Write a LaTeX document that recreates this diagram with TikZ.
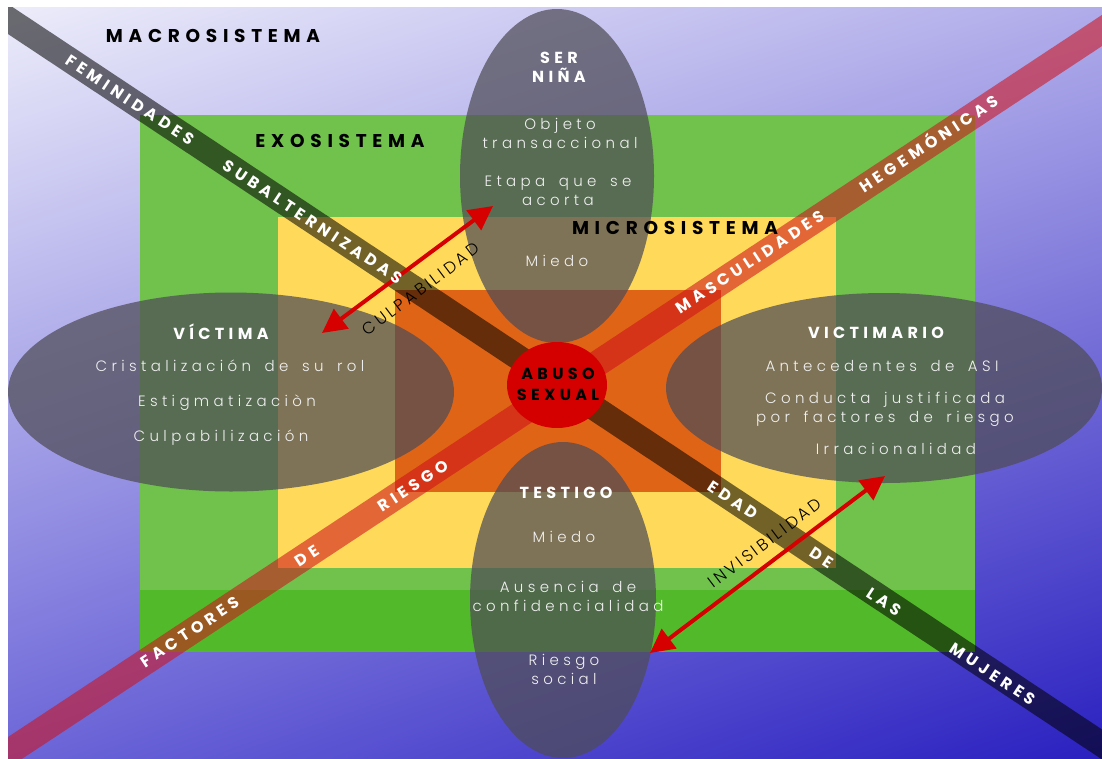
\documentclass[tikz,border=0pt]{standalone}
\usepackage{fontspec}
\setmainfont{Poppins}
\newfontfamily\boldf{Poppins}[LetterSpace=27]
\newfontfamily\headf{Poppins}[LetterSpace=31]
\newfontfamily\lightf{Poppins Light}[LetterSpace=29,WordSpace=1.6]
\newfontfamily\lightsp{Poppins Light}[LetterSpace=18]
\usetikzlibrary{shadings,shapes.geometric,arrows.meta}
\definecolor{bgTL}{RGB}{236,236,250}
\definecolor{bgTR}{RGB}{176,172,234}
\definecolor{bgBL}{RGB}{108,102,216}
\definecolor{bgBR}{RGB}{42,32,192}
\definecolor{exoG}{RGB}{112,194,76}
\definecolor{exoGd}{RGB}{82,186,42}
\definecolor{microY}{RGB}{255,218,90}
\definecolor{coreO}{RGB}{224,100,22}
\definecolor{bandR}{RGB}{207,17,27}
\definecolor{ellG}{RGB}{78,76,86}
\definecolor{absR}{RGB}{212,0,0}
\definecolor{arrR}{RGB}{215,0,0}
\definecolor{txtW}{RGB}{240,240,240}
\begin{document}
\begin{tikzpicture}[x=1pt,y=-1pt,
  headtxt/.style={text=black,font=\headf\bfseries\fontsize{18.5}{22}\selectfont,inner sep=0pt},
  ttl/.style={text=white,font=\boldf\bfseries\fontsize{16}{19}\selectfont,inner sep=0pt,align=center},
  itm/.style={text=txtW,font=\lightf\fontsize{15}{19}\selectfont,inner sep=0pt,align=center},
  bandtxt/.style={text=white,font=\boldf\bfseries\fontsize{16}{19}\selectfont,inner sep=0pt},
  arrtxt/.style={text=black,font=\lightsp\fontsize{16.5}{19}\selectfont,inner sep=0pt},
  blob/.style={ellipse,fill=ellG,fill opacity=0.72,inner sep=0pt,draw=none},
  arr/.style={draw=arrR,line width=4pt,{Triangle[length=24pt,width=24pt]}-{Triangle[length=24pt,width=24pt]}}
]
\useasboundingbox (0,0) rectangle (1102,758);
\fill[white] (0,0) rectangle (1102,758);
\begin{scope}
\clip (8,7) rectangle (1102,758);
\shade[shading=bilinear interpolation,upper left=bgTL,upper right=bgTR,lower left=bgBL,lower right=bgBR] (8,7) rectangle (1102,758);
% systems
\fill[exoG] (140,115) rectangle (975,652);
\fill[exoGd] (140,590) rectangle (975,652);
\fill[microY] (278,217) rectangle (836,568);
\fill[coreO] (395,290) rectangle (721,492);
% bands
\coordinate (fA) at (-20,0.5);
\coordinate (fB) at (1130,763);
\coordinate (rA) at (-20,771);
\coordinate (rB) at (1130,12);
\draw[line width=25pt,black,opacity=0.55] (fA) -- (fB);
\draw[line width=26pt,bandR,opacity=0.57] (rA) -- (rB);
% ellipses
\node[blob,minimum width=194pt,minimum height=334pt] (nina) at (557,176) {};
\node[blob,minimum width=186pt,minimum height=316pt] (testigo) at (563,600) {};
\node[blob,minimum width=446pt,minimum height=199pt] (victima) at (231,392) {};
\node[blob,minimum width=436pt,minimum height=190pt] (victimario) at (884,388) {};
\end{scope}
% centre
\node[ellipse,fill=absR,minimum width=100pt,minimum height=86pt,inner sep=0pt] (abuso) at (557,385) {};
% arrows
\coordinate (culA) at (322,333);
\coordinate (culB) at (493,206);
\coordinate (invA) at (650,653);
\coordinate (invB) at (885,476);
\draw[arr] (culA) -- (culB);
\draw[arr] (invA) -- (invB);
\node[arrtxt,rotate=37] (culp) at (421,289) {CULPABILIDAD};
\node[arrtxt,rotate=37] (invis) at (765,543) {INVISIBILIDAD};
% headings
\node[headtxt] (macro) at (213,36) {MACROSISTEMA};
\node[headtxt] (exo) at (340,141) {EXOSISTEMA};
\node[headtxt] (micro) at (675,228) {MICROSISTEMA};
% band words
\node[bandtxt,rotate=-33.5] (w1) at (130,100) {FEMINIDADES};
\node[bandtxt,rotate=-33.5] (w2) at (313,222) {SUBALTERNIZADAS};
\node[bandtxt,rotate=-33.5] (w3) at (733,500) {EDAD};
\node[bandtxt,rotate=-33.5] (w4) at (822,558) {DE};
\node[bandtxt,rotate=-33.5] (w5) at (884,602) {LAS};
\node[bandtxt,rotate=-33.5] (w6) at (993,674) {MUJERES};
\node[bandtxt,rotate=33.4] (r1) at (190,632) {FACTORES};
\node[bandtxt,rotate=33.4] (r2) at (307,556) {DE};
\node[bandtxt,rotate=33.4] (r3) at (413,486) {RIESGO};
\node[bandtxt,rotate=33.4] (r4) at (750,262) {MASCULIDADES};
\node[bandtxt,rotate=33.4] (r5) at (928,142) {HEGEMÓNICAS};
% ser niña
\node[ttl] (t1) at (559,67) {SER\\NIÑA};
\node[itm] (t1a) at (560,133) {Objeto\\transaccional};
\node[itm] (t1b) at (558,191) {Etapa que se\\acorta};
\node[itm] (t1c) at (557,261) {Miedo};
% victima
\node[ttl] (t2) at (221,332) {VÍCTIMA};
\node[itm] (t2a) at (230,366) {Cristalización de su rol};
\node[itm] (t2b) at (227,403) {Estigmatizaciòn};
\node[itm] (t2c) at (221,438) {Culpabilización};
% victimario
\node[ttl] (t3) at (876,333) {VICTIMARIO};
\node[itm] (t3a) at (882,366) {Antecedentes de ASI};
\node[itm] (t3b) at (885,409) {Conducta justificada\\por factores de riesgo};
\node[itm] (t3c) at (896,449) {Irracionalidad};
% testigo
\node[ttl] (t4) at (566,493) {TESTIGO};
\node[itm] (t4a) at (564,537) {Miedo};
\node[itm] (t4b) at (568,596) {Ausencia de\\confidencialidad};
\node[itm] (t4c) at (564,669) {Riesgo\\social};
% abuso
\node[ttl,text=black,font=\boldf\bfseries\fontsize{16}{21}\selectfont] (t0) at (558,384) {ABUSO\\SEXUAL};
\end{tikzpicture}
\end{document}
